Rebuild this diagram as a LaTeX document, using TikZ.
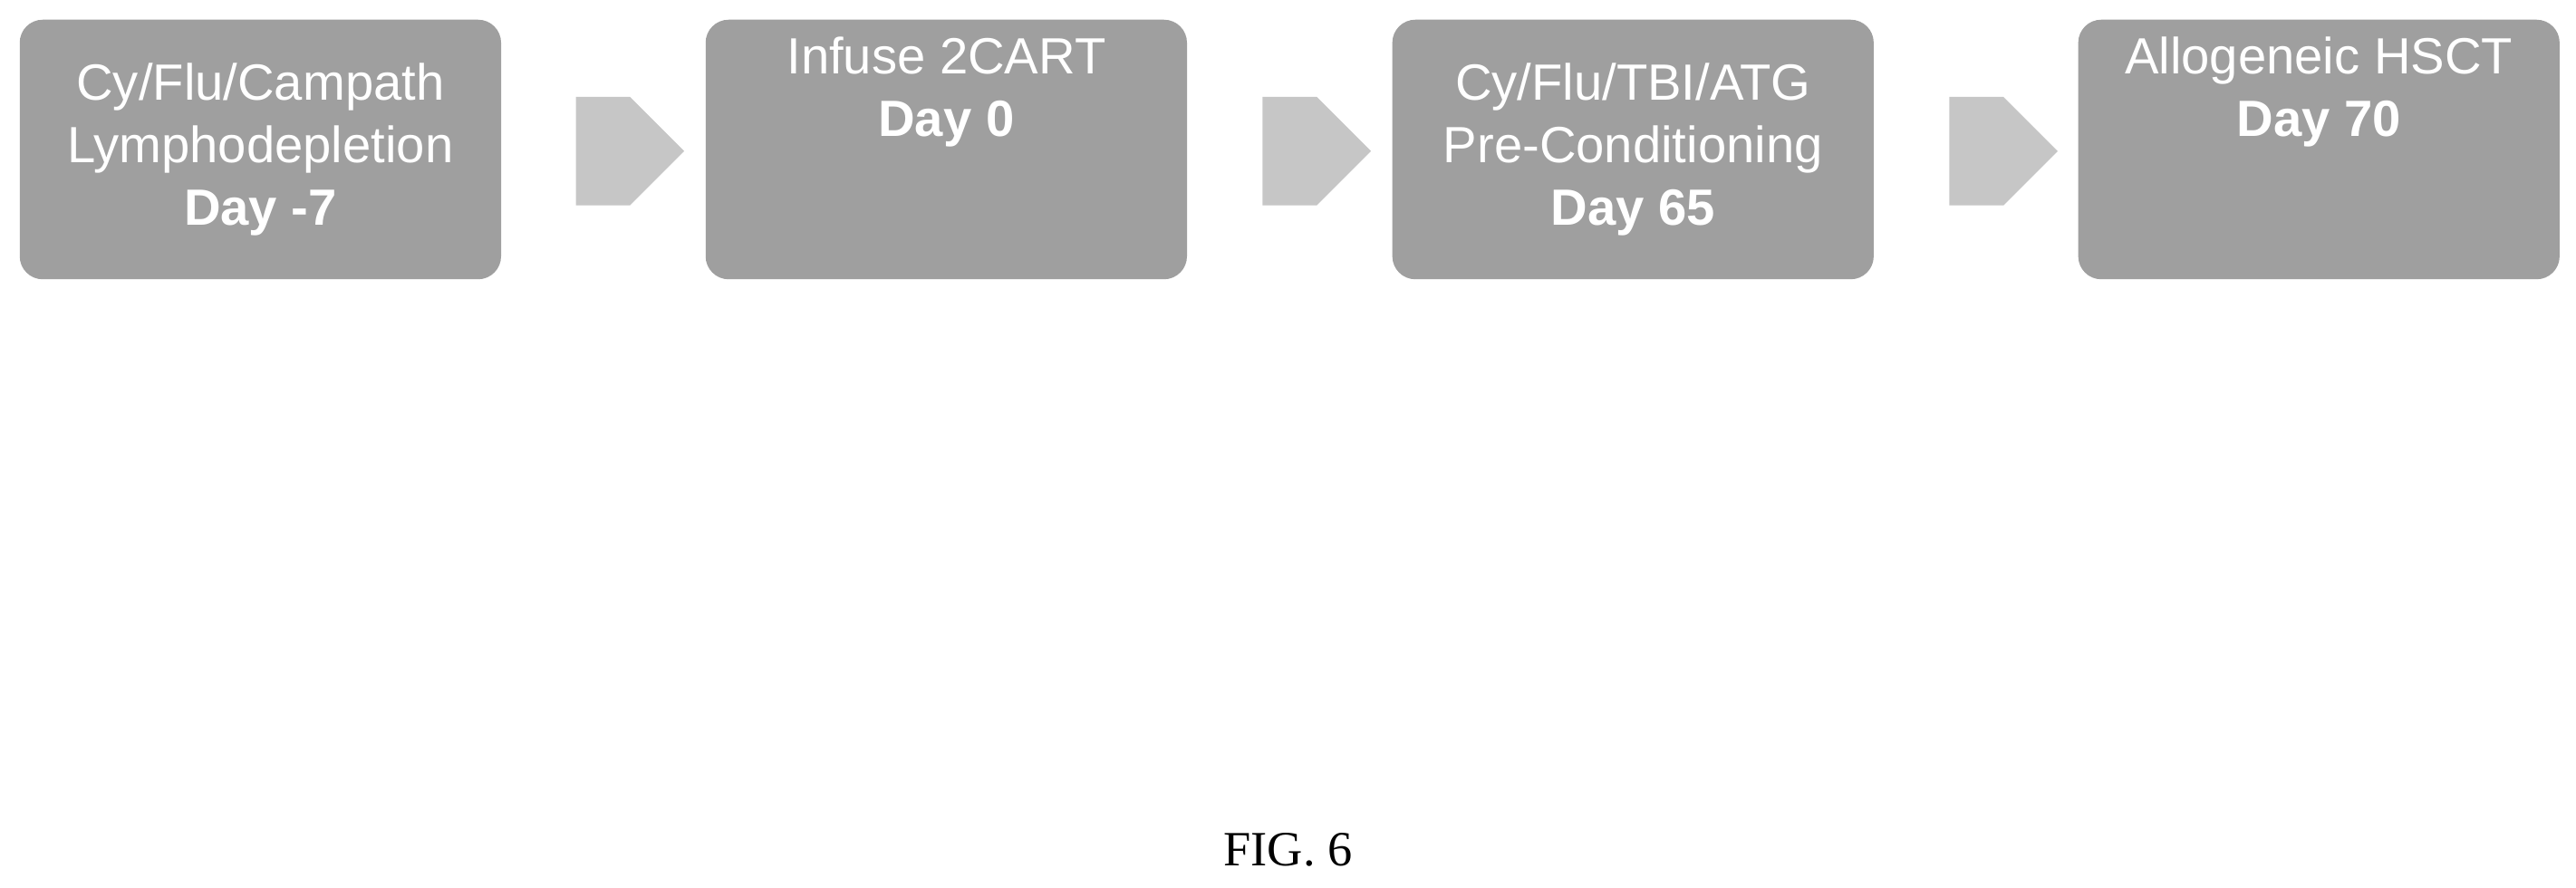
\documentclass[tikz,border=0pt]{standalone}
\usepackage{fontspec}
\setmainfont{Liberation Sans}
\newfontfamily\figfont{Liberation Serif}
\usetikzlibrary{shapes.arrows}
\begin{document}
\begin{tikzpicture}[x=1pt,y=1pt,
  stagebox/.style={draw=none,fill=gray!75,rounded corners=14pt,minimum width=293pt,minimum height=158pt,text=white,align=center,font=\fontsize{31}{38}\selectfont,inner sep=0pt},
  blockarrow/.style={single arrow,draw=none,fill=gray!45,minimum height=66pt,minimum width=66pt,single arrow head extend=0pt,inner sep=0pt}]
\useasboundingbox (0,0) rectangle (1568,540);
\node[stagebox] (s1) at (158.5,449) {Cy/Flu/Campath\\Lymphodepletion\\\textbf{Day -7}};
\node[stagebox] (s2) at (576,449) {Infuse 2CART\\\textbf{Day 0}\\[38pt]};
\node[stagebox] (s3) at (994,449) {Cy/Flu/TBI/ATG\\Pre-Conditioning\\\textbf{Day 65}};
\node[stagebox] (s4) at (1411.5,449) {Allogeneic HSCT\\\textbf{Day 70}\\[38pt]};
\node[blockarrow] (a1) at (367,448) {};
\node[blockarrow] (a2) at (785,448) {};
\node[blockarrow] (a3) at (1203,448) {};
\node[font=\figfont\fontsize{30}{36}\selectfont] (fig) at (784,23) {FIG. 6};
\end{tikzpicture}
\end{document}
